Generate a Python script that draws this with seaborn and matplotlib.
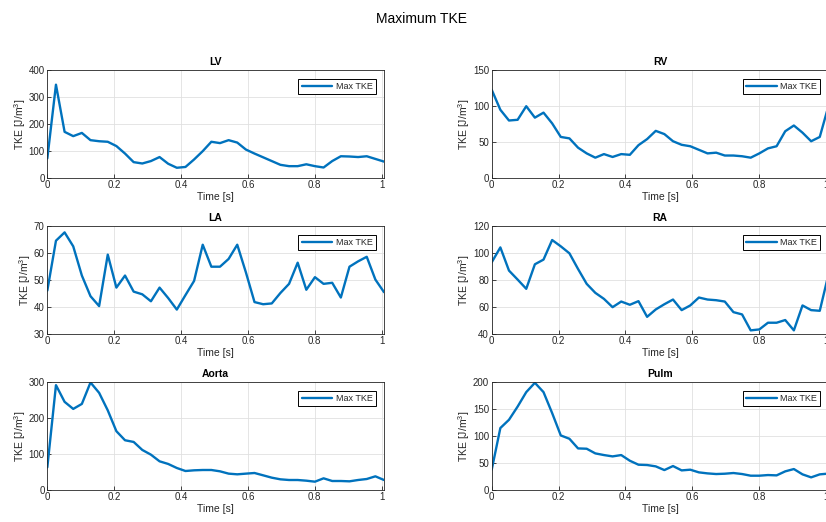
import numpy as np
import pandas as pd
import matplotlib
matplotlib.use("Agg")
import matplotlib.pyplot as plt
import seaborn as sns

# Sampling: 40 frames over one cardiac cycle
dt = 0.02582
n_frames = 40

regions = ["LV", "RV", "LA", "RA", "Aorta", "Pulm"]

lv = [72, 347, 171, 155, 167, 140, 136, 134, 118, 90,
      58, 53, 62, 77, 52, 37, 40, 68, 99, 134,
      129, 140, 131, 105, 90, 76, 62, 48, 43, 43,
      50, 43, 38, 62, 80, 79, 77, 80, 70, 60]
rv = [123, 95, 80, 81, 100, 84, 91, 76, 57, 55,
      42, 34, 28, 33, 29, 33, 32, 45.5, 54, 65.5,
      61, 51, 46, 44, 39, 34, 35, 31, 31, 30,
      28, 34, 41, 44, 65, 73, 63, 51, 57, 100]
la = [46.1, 64.7, 67.8, 62.6, 51.7, 44.0, 40.3, 59.5, 47.2, 51.7,
      45.7, 44.7, 42.1, 47.2, 43.3, 39.0, 44.4, 49.7, 63.2, 55.0,
      55.0, 57.9, 63.2, 52.9, 41.8, 41.0, 41.3, 45.2, 48.6, 56.5,
      46.4, 51.1, 48.6, 49.0, 43.5, 55.0, 57.0, 58.7, 50.2, 45.5]
ra = [93.3, 104.4, 87.1, 80.4, 73.5, 91.8, 95.3, 109.9, 105.2, 100.0,
      88.3, 77.2, 70.5, 66.0, 59.8, 64.0, 61.6, 64.3, 52.6, 58.1,
      62.0, 65.5, 57.6, 61.1, 67.0, 65.5, 65.0, 64.0, 56.1, 54.4,
      42.5, 43.2, 48.2, 48.2, 50.2, 42.5, 61.1, 57.6, 57.1, 84.0]
aorta = [62.6, 292.5, 245.8, 226, 240, 300, 271, 222, 163.6, 138.3,
         133.6, 111.2, 98, 79.4, 72, 60.7, 52.3, 54.2, 55.1, 55.1,
         51.4, 44.9, 43, 44.9, 46.7, 40.2, 33.6, 29, 27.1, 27.1,
         25.2, 22.4, 31.8, 24.3, 24.3, 23.4, 27.1, 29.9, 37.4, 27.1]
pulm = [37.3, 115, 130.4, 155, 182, 199.4, 182, 142.9, 101.2, 95,
        77, 76.4, 67.7, 64.6, 62.1, 64.6, 54, 46.6, 46, 43.5,
        36.6, 44.1, 36, 37.3, 32.3, 30.4, 29.2, 29.8, 31.1, 29.2,
        26.1, 26.1, 27.3, 26.7, 34.2, 38.5, 28.6, 23, 28.6, 30]

series = [lv, rv, la, ra, aorta, pulm]
y_limits = [(0, 400), (0, 150), (30, 70), (40, 120), (0, 300), (0, 200)]
y_steps = [100, 50, 10, 20, 100, 50]

x_ticks = [0, 0.2, 0.4, 0.6, 0.8, 1.0]
x_tick_labels = ["0", "0.2", "0.4", "0.6", "0.8", "1"]

time = np.arange(n_frames) * dt
frames = pd.DataFrame({"Time": np.tile(time, len(regions)),
                       "TKE": np.concatenate(series),
                       "Region": np.repeat(regions, n_frames)})

sns.set_theme(style="whitegrid")
plt.rcParams["font.family"] = ["Liberation Sans", "DejaVu Sans"]
plt.rcParams["mathtext.fontset"] = "custom"
plt.rcParams["mathtext.rm"] = "Liberation Sans"

text_col = "#262626"
line_col = "#0072BD"

fig = plt.figure(figsize=(8.26, 5.22), dpi=100)
fig.patch.set_facecolor("white")

col_left = [0.0573, 0.5953]
row_bottom = [0.6596, 0.3607, 0.0619]
ax_w, ax_h = 0.4076, 0.2054

for k, name in enumerate(regions):
    r, c = divmod(k, 2)
    ax = fig.add_axes([col_left[c], row_bottom[r], ax_w, ax_h])
    sub = frames[frames["Region"] == name]
    sns.lineplot(data=sub, x="Time", y="TKE", ax=ax, color=line_col,
                 linewidth=1.7, label="Max TKE", estimator=None, sort=False)
    ax.set_xlim(0, time[-1])
    lo, hi = y_limits[k]
    ax.set_ylim(lo, hi)
    ax.set_xticks(x_ticks)
    ax.set_xticklabels(x_tick_labels)
    ax.set_yticks(np.arange(lo, hi + 1e-9, y_steps[k]))
    ax.set_yticklabels([f"{v:g}" for v in np.arange(lo, hi + 1e-9, y_steps[k])])
    ax.set_facecolor("white")
    ax.grid(True, color="#e0e0e0", linewidth=0.6)
    for sp in ax.spines.values():
        sp.set_visible(True)
        sp.set_color(text_col)
        sp.set_linewidth(0.6)
    ax.tick_params(axis="both", direction="in", length=3, width=0.6,
                   colors=text_col, labelsize=7, pad=2,
                   bottom=True, left=True)
    ax.set_xlabel("Time [s]", fontsize=7.5, color=text_col, labelpad=1)
    ax.set_ylabel("TKE [J/m$^3$]", fontsize=7.5, color=text_col, labelpad=0.5)
    ax.set_title(name, fontsize=7.5, fontweight="bold", color="black", pad=4)
    leg = ax.legend(loc="upper right", fontsize=6.5, frameon=True,
                    fancybox=False, framealpha=1, edgecolor="black",
                    handlelength=3.4, borderpad=0.35, borderaxespad=0.9,
                    handletextpad=0.4)
    leg.get_frame().set_linewidth(0.7)

fig.text(0.51, 0.964, "Maximum TKE", ha="center", va="center",
         fontsize=10, color="black")

fig.savefig("out.png", dpi=100, facecolor="white")
